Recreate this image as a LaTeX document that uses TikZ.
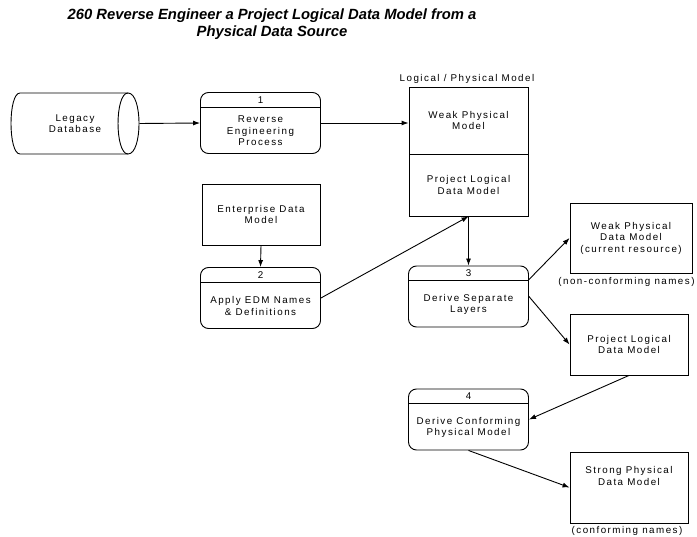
\documentclass[tikz,border=0pt]{standalone}
\usepackage{fontspec}
\setmainfont{Liberation Sans}[LetterSpace=15]
\newfontfamily\titlefont{Liberation Sans}
\usetikzlibrary{arrows.meta, calc}

\begin{document}
\begin{tikzpicture}[x=1pt, y=-1pt, line width=0.9pt,
  txt/.style={align=center, font=\fontsize{9.8}{11.5}\selectfont, inner sep=0pt},
  box/.style={draw, rectangle, inner sep=0pt},
  proc/.style={draw, rectangle, rounded corners=8pt, minimum width=120pt, minimum height=61pt, inner sep=0pt},
  arr/.style={-{Latex[length=7pt,width=5pt]}}]
\useasboundingbox (0,0) rectangle (697,537);
% Title
\node[font=\titlefont\fontsize{14.8}{17}\selectfont\bfseries\itshape, align=center] (title) at (272,24.5) {260 Reverse Engineer a Project Logical Data Model from a\\Physical Data Source};
% Legacy data store
\node[txt, minimum width=128pt, minimum height=61pt] (legacy) at (75,123.5) {Legacy\\Database};
\draw (20,93) -- (128,93) .. controls (142.7,93) and (142.7,154) .. (128,154) -- (20,154)
  .. controls (8,154) and (8,93) .. (20,93);
\draw (128,93) .. controls (114.7,93) and (114.7,154) .. (128,154);
% Process 1
\node[proc] (p1) at (260.5,123) {};
\draw ([yshift=-15pt]p1.north west) -- ([yshift=-15pt]p1.north east);
\node[txt] (p1num) at ([yshift=-8pt]p1.north) {1};
\node[txt] (p1txt) at ([yshift=-8pt]p1.center) {Reverse\\Engineering\\Process};
% Logical / Physical model
\node[box, minimum width=119pt, minimum height=67pt] (lpmtop) at (468.5,120.5) {};
\node[box, minimum width=119pt, minimum height=62pt] (lpmbot) at (468.5,185) {};
\node[txt] (lpmtoptxt) at (lpmtop) {Weak Physical\\Model};
\node[txt] (lpmbottxt) at (lpmbot) {Project Logical\\Data Model};
\node[txt] (lpmlabel) at (467,79) {Logical / Physical Model};
% Enterprise data model
\node[box, txt, minimum width=118pt, minimum height=61pt] (edm) at (261,214.5) {Enterprise Data\\Model};
% Process 2
\node[proc] (p2) at (260.5,298) {};
\draw ([yshift=-15pt]p2.north west) -- ([yshift=-15pt]p2.north east);
\node[txt] (p2num) at ([yshift=-8pt]p2.north) {2};
\node[txt] (p2txt) at ([yshift=-8pt]p2.center) {Apply EDM Names\\\& Definitions};
% Process 3
\node[proc] (p3) at (468.5,296.5) {};
\draw ([yshift=-15pt]p3.north west) -- ([yshift=-15pt]p3.north east);
\node[txt] (p3num) at ([yshift=-8pt]p3.north) {3};
\node[txt] (p3txt) at ([yshift=-8pt]p3.center) {Derive Separate\\Layers};
% Process 4
\node[proc] (p4) at (468.5,419.5) {};
\draw ([yshift=-15pt]p4.north west) -- ([yshift=-15pt]p4.north east);
\node[txt] (p4num) at ([yshift=-8pt]p4.north) {4};
\node[txt] (p4txt) at ([yshift=-8pt]p4.center) {Derive Conforming\\Physical Model};
% Output models
\node[box, txt, minimum width=122pt, minimum height=70pt] (weak) at (631,238) {Weak Physical\\Data Model\\(current resource)};
\node[txt, anchor=east] (weaklabel) at (695,282) {(non-conforming names)};
\node[box, txt, minimum width=118pt, minimum height=61pt] (pldm) at (629,344.5) {Project Logical\\Data Model};
\node[box, minimum width=118pt, minimum height=71pt] (strong) at (629,487.5) {};
\node[txt] (strongtxt) at ([yshift=11.5pt]strong.center) {Strong Physical\\Data Model};
\node[txt] (stronglabel) at (627,531) {(conforming names)};
% Flows
\draw[arr] (legacy.east) -- (p1.west);
\draw[arr] (p1.east) -- (p1.east -| lpmtop.west);
\draw[arr] (edm.south) -- (p2.north);
\draw[arr] (p2.east) -- (lpmbot.south);
\draw[arr] (lpmbot.south) -- (p3.north);
\draw[arr] ([yshift=-14pt]p3.north east) -- (weak.west);
\draw[arr] (p3.east) -- (pldm.west);
\draw[arr] (pldm.south) -- (p4.east);
\draw[arr] (p4.south) -- (strong.west);
\end{tikzpicture}
\end{document}
